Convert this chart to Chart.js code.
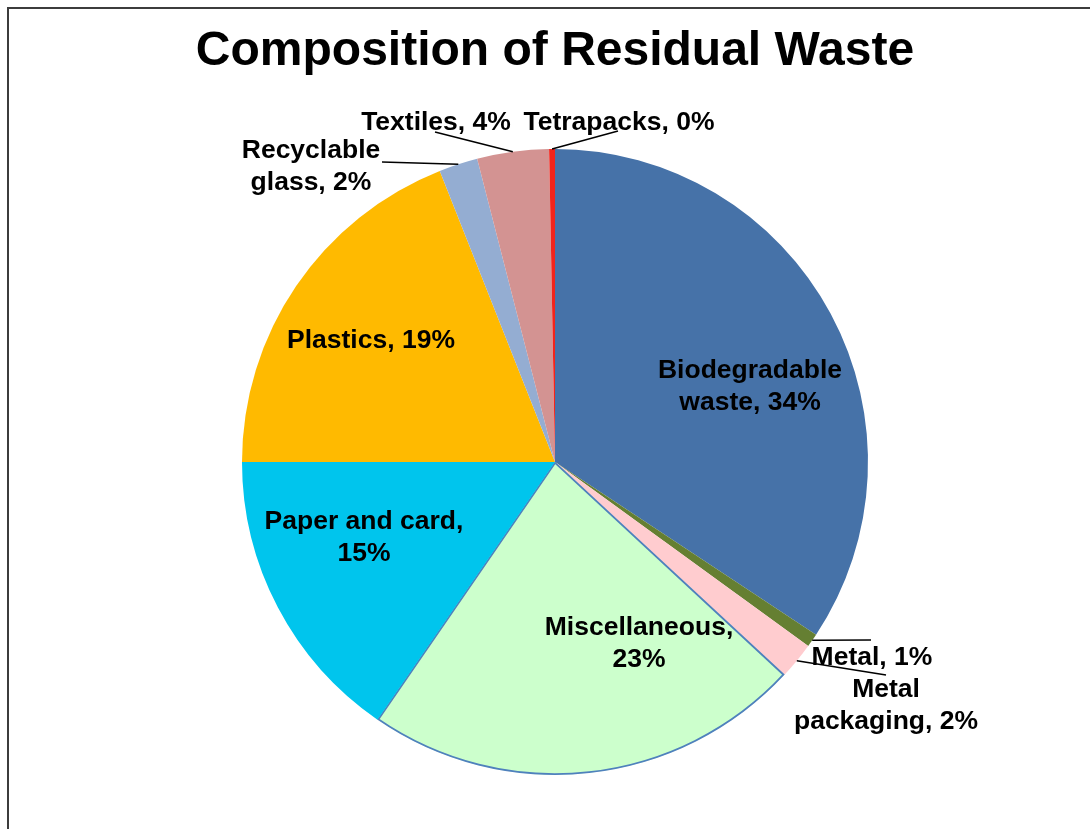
<!DOCTYPE html>
<html><head><meta charset="utf-8">
<script src="https://cdn.jsdelivr.net/npm/chart.js@4/dist/chart.umd.min.js"></script>
<style>html,body{margin:0;padding:0;background:#fff}canvas{display:block}</style>
</head><body>
<canvas id="c" width="1090" height="829"></canvas>
<script>
const chartTitle = "Composition of Residual Waste";
const categories = ["Biodegradable waste","Metal","Metal packaging","Miscellaneous","Paper and card","Plastics","Recyclable glass","Textiles","Tetrapacks"];
const shares = [34.3, 0.7, 1.9, 22.7, 15.4, 19.0, 2.0, 3.7, 0.3];
const sliceColors = ["#4672A8","#657F32","#FFCCCF","#CCFFCC","#00C5ED","#FFBA00","#94ADD2","#D39392","#F2241C"];
// number of words kept on the first line of each label (0 = single line)
const wrapAfter = [1, 0, 1, 1, 3, 0, 1, 0, 0];

function labelLinesFor(i){
  const txt = categories[i] + ", " + Math.round(shares[i]) + "%";
  const w = txt.split(" ");
  if (!wrapAfter[i]) return [txt];
  return [w.slice(0, wrapAfter[i]).join(" "), w.slice(wrapAfter[i]).join(" ")];
}

// label placement relative to pie centre (pixels at the reference radius 313)
const REF_R = 313;
const labelPlace = [
  {t:[195,-75]},
  {t:[317,196], e:[316,178]},
  {t:[331,244], e:[331,213]},
  {t:[84,182]},
  {t:[-191,76]},
  {t:[-184,-121]},
  {t:[-244,-295], e:[-173,-300]},
  {t:[-119,-339], e:[-120,-330]},
  {t:[64,-339], e:[63,-331]}
];

const decor = {
  id: 'decor',
  afterDraw(chart){
    const ctx = chart.ctx;
    const meta = chart.getDatasetMeta(0);
    ctx.save();
    // frame
    ctx.strokeStyle = '#3c3c3c';
    ctx.lineWidth = 2;
    ctx.beginPath();
    ctx.moveTo(8, 829); ctx.lineTo(8, 8); ctx.lineTo(1090, 8);
    ctx.stroke();
    // title
    ctx.fillStyle = '#000';
    ctx.font = 'bold 48px "Liberation Sans", Arial, sans-serif';
    ctx.textAlign = 'center';
    ctx.textBaseline = 'alphabetic';
    ctx.fillText(chartTitle, 555, 65);
    // labels
    ctx.font = 'bold 26.5px "Liberation Sans", Arial, sans-serif';
    ctx.textBaseline = 'middle';
    const lh = 32;
    meta.data.forEach((arc, i) => {
      const {x, y, startAngle, endAngle, outerRadius} = arc.getProps(['x','y','startAngle','endAngle','outerRadius'], true);
      const k = outerRadius / REF_R;
      const p = labelPlace[i];
      if (p.e) {
        const mid = (startAngle + endAngle) / 2;
        const sx = x + Math.cos(mid) * outerRadius, sy = y + Math.sin(mid) * outerRadius;
        ctx.strokeStyle = '#000';
        ctx.lineWidth = 1.5;
        ctx.beginPath();
        ctx.moveTo(sx, sy);
        ctx.lineTo(x + p.e[0] * k, y + p.e[1] * k);
        ctx.stroke();
      }
      const lines = labelLinesFor(i);
      const cx = x + p.t[0] * k, cy = y + p.t[1] * k;
      const y0 = cy - (lines.length - 1) * lh / 2;
      lines.forEach((ln, j) => ctx.fillText(ln, cx, y0 + j * lh));
    });
    ctx.restore();
  }
};

new Chart(document.getElementById('c'), {
  type: 'pie',
  data: {
    labels: categories,
    datasets: [{
      data: shares,
      backgroundColor: sliceColors,
      borderColor: sliceColors.map((c, i) => i === 3 ? '#4F81BD' : c),
      borderWidth: sliceColors.map((c, i) => i === 3 ? 1.5 : 0),
      borderAlign: sliceColors.map((c, i) => i === 3 ? 'inner' : 'center')
    }]
  },
  options: {
    responsive: false,
    animation: false,
    layout: {padding: {left: 242, right: 222, top: 149, bottom: 54}},
    plugins: {legend: {display: false}, tooltip: {enabled: false}, title: {display: false}}
  },
  plugins: [decor]
});
</script>
</body></html>
